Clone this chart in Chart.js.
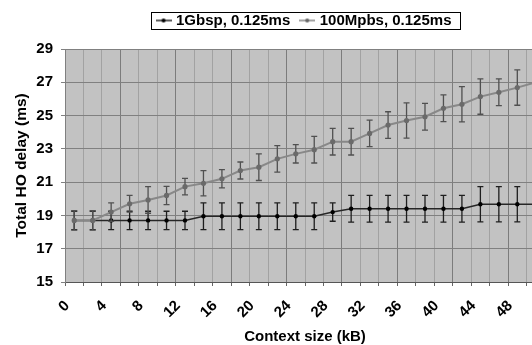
<!DOCTYPE html>
<html>
<head>
<meta charset="utf-8">
<script src="https://cdn.jsdelivr.net/npm/chart.js@4.4.0/dist/chart.umd.min.js"></script>
<style>
    html, body { margin: 0; padding: 0; background: #fff; overflow: hidden; }
    .divDelai { position: relative; width: 532px; height: 345px; overflow: hidden; }
    #GraphiqueDelai { position: absolute; left: 0; top: 0; }
</style>
</head>
<body>
<div class="divDelai"><canvas id="GraphiqueDelai" width="560" height="345"></canvas></div>
<script>
// tailles de contexte (kB) - une etiquette sur deux est affichee
var taillesContexte = ['0', '2', '4', '6', '8', '10', '12', '14', '16', '18', '20', '22', '24',
    '26', '28', '30', '32', '34', '36', '38', '40', '42', '44', '46', '48', '50'];

// 1Gbsp, 0.125ms
var delai1G = [18.7, 18.7, 18.7, 18.7, 18.7, 18.7, 18.7, 18.95, 18.95, 18.95, 18.95, 18.95, 18.95,
    18.95, 19.2, 19.4, 19.4, 19.4, 19.4, 19.4, 19.4, 19.4, 19.67, 19.67, 19.67, 19.67];
var erreur1G = [0.55, 0.55, 0.55, 0.55, 0.55, 0.55, 0.55, 0.8, 0.8, 0.8, 0.8, 0.8, 0.8,
    0.8, 0.55, 0.8, 0.8, 0.8, 0.8, 0.8, 0.8, 0.8, 1.06, 1.06, 1.06, 1.06];

// 100Mpbs, 0.125ms
var delai100M = [18.7, 18.7, 19.2, 19.7, 19.93, 20.2, 20.73, 20.93, 21.2, 21.7, 21.9, 22.4, 22.7,
    22.95, 23.43, 23.43, 23.93, 24.43, 24.7, 24.93, 25.44, 25.68, 26.14, 26.4, 26.68, 27.0];
var erreur100M = [0.58, 0.58, 0.55, 0.5, 0.8, 0.55, 0.5, 0.76, 0.55, 0.51, 0.8, 0.8, 0.55,
    0.8, 0.8, 0.8, 0.8, 0.8, 1.06, 0.8, 0.8, 1.06, 1.06, 0.8, 1.06, 1.06];

var axeY = [15, 29, 2]; // min, max, pas

Chart.defaults.font.family = "'Liberation Sans', Arial, sans-serif";
Chart.defaults.font.weight = 'bold';
Chart.defaults.color = '#000';

function SymboleLegende(couleurLigne, couleurPoint) {
    var c = document.createElement('canvas');
    c.width = 16;
    c.height = 8;
    var g = c.getContext('2d');
    g.strokeStyle = couleurLigne;
    g.lineWidth = 1.5;
    g.beginPath();
    g.moveTo(0, 4);
    g.lineTo(16, 4);
    g.stroke();
    g.fillStyle = couleurPoint;
    g.beginPath();
    g.arc(8, 4, 2, 0, Math.PI * 2);
    g.fill();
    return c;
}

var symboles = [SymboleLegende('#262626', '#000'), SymboleLegende('#858585', '#666')];

var fondGraphique = {
    id: 'fondGraphique',
    beforeDraw: function (chart) {
        var a = chart.chartArea;
        var ctx = chart.ctx;
        ctx.save();
        ctx.fillStyle = '#c2c2c2';
        ctx.fillRect(a.left, a.top, a.right - a.left, a.bottom - a.top);
        ctx.restore();
    }
};

var barresErreur = {
    id: 'barresErreur',
    beforeDatasetDraw: function (chart, args) {
        var ds = chart.data.datasets[args.index];
        var y = chart.scales.y;
        var ctx = chart.ctx;
        ctx.save();
        ctx.strokeStyle = ds.couleurErreur;
        ctx.lineWidth = 1.3;
        args.meta.data.forEach(function (pt, i) {
            var haut = y.getPixelForValue(ds.data[i] + ds.erreurs[i]);
            var bas = y.getPixelForValue(ds.data[i] - ds.erreurs[i]);
            ctx.beginPath();
            ctx.moveTo(pt.x, haut);
            ctx.lineTo(pt.x, bas);
            ctx.moveTo(pt.x - 3, haut);
            ctx.lineTo(pt.x + 3, haut);
            ctx.moveTo(pt.x - 3, bas);
            ctx.lineTo(pt.x + 3, bas);
            ctx.stroke();
        });
        ctx.restore();
    }
};

var cadreLegende = {
    id: 'cadreLegende',
    afterInit: function (chart) {
        var legende = chart.legend;
        var fitOrigine = legende.fit;
        legende.fit = function () {
            fitOrigine.call(this);
            this.height += 11;
        };
    },
    afterDraw: function (chart) {
        var boites = chart.legend.legendHitBoxes;
        if (!boites || !boites.length) return;
        var premier = boites[0];
        var dernier = boites[boites.length - 1];
        var gauche = Math.round(premier.left - 8);
        var droite = Math.round(dernier.left + dernier.width + 9);
        var haut = Math.round(premier.top + premier.height / 2 - 8.5);
        var ctx = chart.ctx;
        ctx.save();
        ctx.strokeStyle = '#000';
        ctx.lineWidth = 1;
        ctx.strokeRect(gauche + 0.5, haut + 0.5, droite - gauche, 17);
        ctx.restore();
    }
};

var ctx = document.getElementById('GraphiqueDelai').getContext('2d');

var graphique = new Chart(ctx, {
    type: 'line',
    data: {
        labels: taillesContexte,
        datasets: [
            {
                label: '1Gbsp, 0.125ms',
                data: delai1G,
                erreurs: erreur1G,
                couleurErreur: '#1e1e1e',
                borderColor: '#262626',
                backgroundColor: '#000',
                borderWidth: 1.5,
                pointRadius: 2.2,
                pointBorderWidth: 0,
                order: 1
            },
            {
                label: '100Mpbs, 0.125ms',
                data: delai100M,
                erreurs: erreur100M,
                couleurErreur: '#505050',
                borderColor: '#888888',
                backgroundColor: '#6a6a6a',
                borderWidth: 2,
                pointRadius: 2.6,
                pointBorderWidth: 0,
                order: 0
            }
        ]
    },
    options: {
        responsive: false,
        animation: false,
        layout: { padding: { top: 1, right: 15, bottom: 0, left: 0 } },
        plugins: {
            tooltip: { enabled: false },
            legend: {
                position: 'top',
                fullSize: false,
                labels: {
                    usePointStyle: true,
                    pointStyleWidth: 10,
                    padding: 12,
                    font: { size: 15, weight: 'bold' },
                    sort: function (a, b) { return a.datasetIndex - b.datasetIndex; },
                    generateLabels: function (chart) {
                        var items = Chart.defaults.plugins.legend.labels.generateLabels(chart);
                        items.forEach(function (it) { it.pointStyle = symboles[it.datasetIndex]; });
                        return items;
                    }
                }
            }
        },
        scales: {
            x: {
                offset: true,
                afterFit: function (s) { s.height = 63; },
                grid: {
                    offset: true,
                    tickLength: 4,
                    tickColor: '#666',
                    color: function (c) { return c.index % 3 === 0 ? '#7c7c7c' : '#a2a2a2'; }
                },
                border: { color: '#555' },
                ticks: {
                    autoSkip: false,
                    minRotation: 45,
                    maxRotation: 45,
                    padding: 11,
                    labelOffset: -7,
                    font: { size: 15, weight: 'bold' },
                    callback: function (v, i) { return i % 2 ? '' : taillesContexte[i]; }
                },
                title: {
                    display: true,
                    text: 'Context size (kB)',
                    font: { size: 15, weight: 'bold' },
                    padding: { top: 0, bottom: -1 }
                }
            },
            y: {
                min: axeY[0],
                max: axeY[1],
                afterFit: function (s) { s.width = 65; },
                grid: { color: '#808080', tickLength: 4, tickColor: '#808080' },
                border: { color: '#808080' },
                ticks: {
                    stepSize: axeY[2],
                    padding: 8,
                    font: { size: 15, weight: 'bold' }
                },
                title: {
                    display: true,
                    text: 'Total HO delay (ms)',
                    font: { size: 15.5, weight: 'bold' },
                    padding: { top: 12, bottom: 0 }
                }
            }
        }
    },
    plugins: [fondGraphique, barresErreur, cadreLegende]
});
</script>
</body>
</html>
